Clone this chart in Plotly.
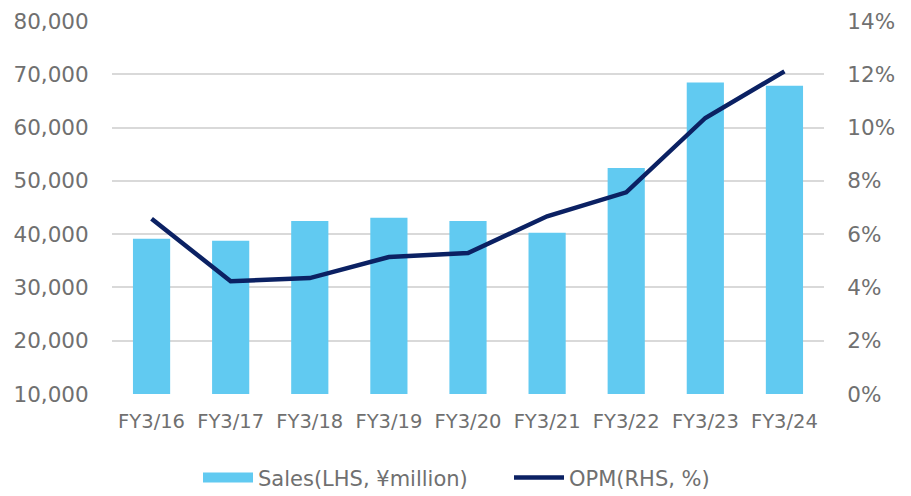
import plotly.graph_objects as go

categories = ["FY3/16", "FY3/17", "FY3/18", "FY3/19", "FY3/20", "FY3/21", "FY3/22", "FY3/23", "FY3/24"]
sales = [39140, 38770, 42460, 43080, 42460, 40270, 52410, 68470, 67850]
opm = [0.0658, 0.0423, 0.0435, 0.0514, 0.0529, 0.0667, 0.0757, 0.1036, 0.1211]

left_ticks = [10000, 20000, 30000, 40000, 50000, 60000, 70000, 80000]
right_ticks = [0, 0.02, 0.04, 0.06, 0.08, 0.10, 0.12, 0.14]

FONT = "DejaVu Sans"
GRAY = "#707070"
GRID = "#d9d9d9"
BAR_COLOR = "#61caf1"
LINE_COLOR = "#0b2163"

fig = go.Figure()
fig.add_trace(go.Bar(
    x=categories, y=sales, name="Sales(LHS, ¥million)",
    marker=dict(color=BAR_COLOR, line=dict(width=0)),
    yaxis="y", showlegend=False,
))
# legend proxy for the bars (wide rectangle symbol)
fig.add_trace(go.Scatter(
    x=[categories[0]], y=[None], name="Sales(LHS, ¥million)", mode="lines",
    line=dict(color=BAR_COLOR, width=12), yaxis="y", hoverinfo="skip",
))
fig.add_trace(go.Scatter(
    x=categories, y=opm, name="OPM(RHS, %)", mode="lines",
    line=dict(color=LINE_COLOR, width=4.5),
    yaxis="y2",
))

fig.update_layout(
    width=911, height=496,
    margin=dict(l=112, r=87, t=21, b=102, autoexpand=False),
    plot_bgcolor="white", paper_bgcolor="white",
    bargap=0.53,
    font=dict(family=FONT, color=GRAY),
    xaxis=dict(
        tickfont=dict(size=19.5, color=GRAY, family=FONT),
        showgrid=False, showline=False, zeroline=False, automargin=False,
        ticks="outside", ticklen=10, tickcolor="rgba(0,0,0,0)",
    ),
    yaxis=dict(
        range=[10000, 80000], tickvals=left_ticks, tickformat=",",
        tickfont=dict(size=21.5, color=GRAY, family=FONT),
        showgrid=True, gridcolor=GRID, gridwidth=1.5,
        zeroline=False, showline=False, automargin=False,
        ticks="outside", ticklen=18, tickcolor="rgba(0,0,0,0)",
    ),
    yaxis2=dict(
        range=[0, 0.14], tickvals=right_ticks, tickformat=".0%",
        overlaying="y", side="right",
        tickfont=dict(size=21.5, color=GRAY, family=FONT),
        showgrid=False, zeroline=False, showline=False, automargin=False,
        ticks="outside", ticklen=18, tickcolor="rgba(0,0,0,0)",
    ),
    legend=dict(
        orientation="h", x=0.1208, xanchor="left", y=-0.17, yanchor="top",
        font=dict(size=21, color=GRAY, family=FONT),
        itemwidth=50, entrywidth=246, entrywidthmode="pixels",
    ),
    showlegend=True,
)

fig.write_html(
    "out.html",
    config={"displayModeBar": False},
    post_script="document.body.style.margin='0';document.body.style.overflow='hidden';",
)
